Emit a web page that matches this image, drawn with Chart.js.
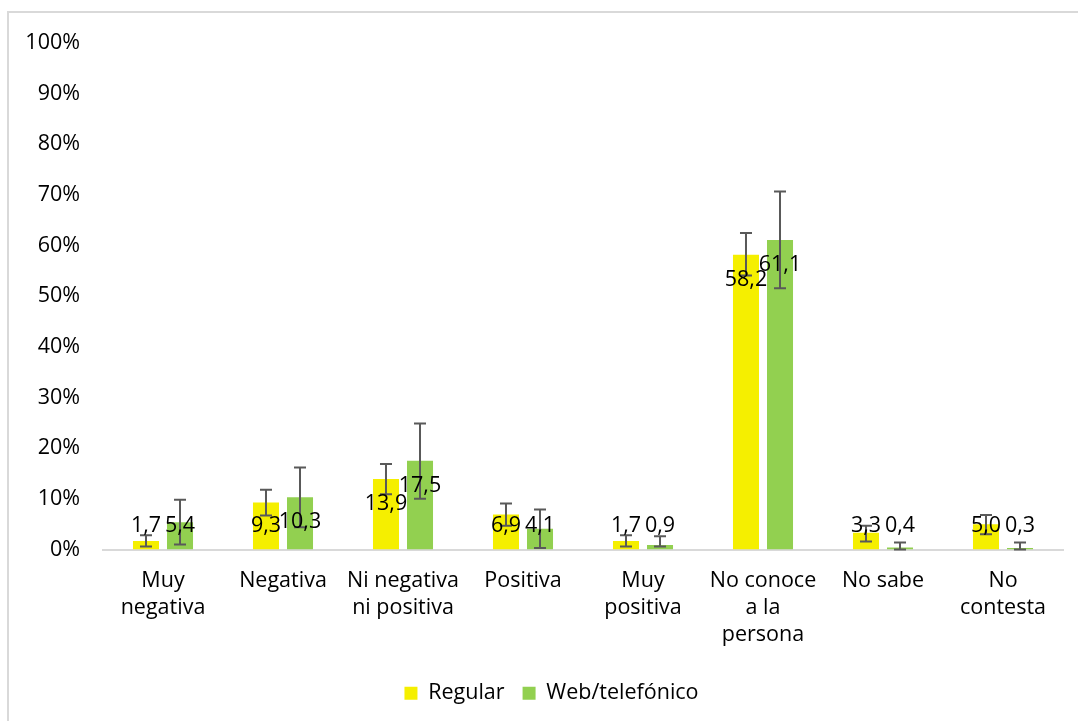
<!DOCTYPE html>
<html>
<head>
<meta charset="utf-8">
<script src="https://cdn.jsdelivr.net/npm/chart.js@4"></script>
<style>
  html, body { margin: 0; padding: 0; background: #fff; }
  #wrap { position: relative; width: 1078px; height: 721px; }
</style>
</head>
<body>
<div id="wrap"><canvas id="chart" width="1078" height="721"></canvas></div>
<script>
// categories (multi-line as in the source)
const CATEGORIES = [
  ["Muy", "negativa"], "Negativa", ["Ni negativa", "ni positiva"], "Positiva",
  ["Muy", "positiva"], ["No conoce", "a la", "persona"], "No sabe", ["No", "contesta"]
];
const SERIES_NAMES = ["Regular", "Web/telefónico"];

// percentages
const regular = [1.7, 9.3, 13.9, 6.9, 1.7, 58.2, 3.3, 5.0];
const web     = [5.4, 10.3, 17.5, 4.1, 0.9, 61.1, 0.4, 0.3];

// error bar ends
const regularLow  = [0.6, 6.7, 10.9, 4.7, 0.6, 54.1, 1.6, 3.0];
const regularHigh = [2.8, 11.8, 16.9, 9.1, 2.8, 62.5, 4.7, 6.8];
const webLow      = [1.0, 4.4, 10.0, 0.3, 0.6, 51.6, 0.0, 0.0];
const webHigh     = [9.8, 16.2, 24.9, 7.9, 2.6, 70.7, 1.4, 1.4];

const Y_TICKS = [0, 10, 20, 30, 40, 50, 60, 70, 80, 90, 100];

const FONT = "'Open Sans', 'Noto Sans', sans-serif";
const FSIZE = 21.5;
const COLORS = ['#f5ef00', '#92d050'];

// the light frame around the chart (only top + left visible in the source)
const framePlugin = {
  id: 'frame',
  beforeDraw(chart) {
    const ctx = chart.ctx;
    ctx.save();
    ctx.strokeStyle = '#d9d9d9';
    ctx.lineWidth = 2;
    ctx.beginPath();
    ctx.moveTo(8, 721);
    ctx.lineTo(8, 12);
    ctx.lineTo(1078, 12);
    ctx.stroke();
    ctx.restore();
  }
};

// legend sits a bit right of centre in the source
const legendNudge = {
  id: 'legendNudge',
  afterLayout(chart) {
    const lg = chart.legend;
    if (!lg) return;
    lg.left += 20; lg.right += 20;
  }
};

// error bars + value labels
const errLabelPlugin = {
  id: 'errLabels',
  afterDatasetsDraw(chart) {
    const ctx = chart.ctx;
    const y = chart.scales.y;
    const lows = [regularLow, webLow];
    const highs = [regularHigh, webHigh];
    const base = y.getPixelForValue(0);

    ctx.save();
    ctx.strokeStyle = '#595959';
    ctx.lineWidth = 2;
    chart.data.datasets.forEach((ds, di) => {
      const meta = chart.getDatasetMeta(di);
      meta.data.forEach((bar, i) => {
        const yl = y.getPixelForValue(lows[di][i]);
        const yh = y.getPixelForValue(highs[di][i]);
        ctx.beginPath();
        ctx.moveTo(bar.x, yl); ctx.lineTo(bar.x, yh);
        ctx.moveTo(bar.x - 6, yl); ctx.lineTo(bar.x + 6, yl);
        ctx.moveTo(bar.x - 6, yh); ctx.lineTo(bar.x + 6, yh);
        ctx.stroke();
      });
    });

    ctx.fillStyle = '#000';
    ctx.font = FSIZE + 'px ' + FONT;
    ctx.textAlign = 'center';
    ctx.textBaseline = 'middle';
    chart.data.datasets.forEach((ds, di) => {
      const meta = chart.getDatasetMeta(di);
      meta.data.forEach((bar, i) => {
        const ly = Math.min(bar.y + 25, base - 24);
        ctx.fillText(ds.data[i].toFixed(1).replace('.', ','), bar.x, ly);
      });
    });
    ctx.restore();
  }
};

new Chart(document.getElementById('chart'), {
  type: 'bar',
  data: {
    labels: CATEGORIES,
    datasets: [
      { label: SERIES_NAMES[0], data: regular, backgroundColor: COLORS[0] },
      { label: SERIES_NAMES[1], data: web, backgroundColor: COLORS[1] }
    ]
  },
  options: {
    responsive: false,
    animation: false,
    categoryPercentage: 0.567,
    barPercentage: 0.765,
    layout: { padding: { top: 43, right: 15, left: 0, bottom: 7 } },
    plugins: {
      legend: {
        position: 'bottom',
        labels: {
          boxWidth: 13, boxHeight: 13, padding: 18,
          color: '#000', font: { family: FONT, size: FSIZE }
        }
      },
      tooltip: { enabled: false }
    },
    scales: {
      x: {
        grid: { display: false, drawTicks: false },
        border: { color: '#d9d9d9', width: 2 },
        ticks: {
          color: '#000', padding: 18, maxRotation: 0, autoSkip: false,
          font: { family: FONT, size: FSIZE, lineHeight: 1.25 }
        },
        afterFit(s) { s.height = 115; }
      },
      y: {
        min: 0, max: 100,
        afterBuildTicks(s) { s.ticks = Y_TICKS.map(v => ({ value: v })); },
        grid: { display: false, drawTicks: false },
        border: { display: false },
        ticks: {
          color: '#000', padding: 23,
          font: { family: FONT, size: FSIZE },
          callback: v => v + '%'
        },
        afterFit(s) { s.width = 103; }
      }
    }
  },
  plugins: [framePlugin, legendNudge, errLabelPlugin]
});
</script>
</body>
</html>
